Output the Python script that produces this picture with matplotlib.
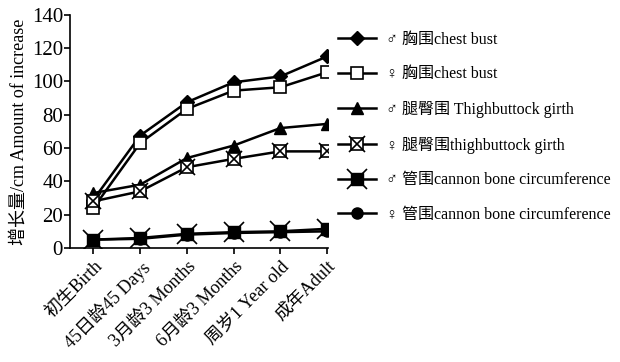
import matplotlib
matplotlib.use("Agg")
import matplotlib.pyplot as plt

plt.rcParams['font.family'] = ['Liberation Serif', 'Noto Sans CJK SC', 'DejaVu Sans']

# stages
stages = ['初生Birth', '45日龄45 Days', '3月龄3 Months', '6月龄3 Months', '周岁1 Year old', '成年Adult']

# growth values (cm)
male_chest = [29, 67.5, 87.5, 99.5, 103, 115]
female_chest = [24, 63, 83.5, 94.5, 96.5, 105.5]
male_thigh = [33, 38, 54, 61.5, 72, 74.5]
female_thigh = [28, 34, 48.5, 53.5, 58, 58]
male_cannon = [5, 6, 8.5, 9.5, 10, 11.5]
female_cannon = [5, 5.5, 8, 9, 9.5, 10]

labels = ['♂ 胸围chest bust', '♀ 胸围chest bust', '♂ 腿臀围 Thighbuttock girth',
          '♀ 腿臀围thighbuttock girth', '♂ 管围cannon bone circumference',
          '♀ 管围cannon bone circumference']

x = list(range(len(stages)))

fig = plt.figure(figsize=(6.2, 3.62), dpi=100)
ax = fig.add_axes([0.113, 0.315, 0.416, 0.644])

lw = 1.8
h1, = ax.plot(x, male_chest, color='k', lw=lw, marker='D', ms=7, mfc='k', mec='k')
h2, = ax.plot(x, female_chest, color='k', lw=lw, marker='s', ms=9, mfc='white', mec='k', mew=1.2)
h3, = ax.plot(x, male_thigh, color='k', lw=lw, marker='^', ms=9, mfc='k', mec='k')
h4a, = ax.plot(x, female_thigh, color='k', lw=lw, marker='s', ms=9, mfc='white', mec='k', mew=1.2)
h4b, = ax.plot(x, female_thigh, ls='none', marker='x', ms=12, mec='k', mew=1.2)
h5a, = ax.plot(x, male_cannon, color='k', lw=lw, marker='s', ms=9, mfc='k', mec='k')
h5b, = ax.plot(x, male_cannon, ls='none', marker='x', ms=14, mec='k', mew=1.2)
h6, = ax.plot(x, female_cannon, color='k', lw=lw, marker='o', ms=8, mfc='k', mec='k')

ax.set_xlim(-0.5, 5.02)
ax.set_ylim(0, 140)
ax.set_yticks(range(0, 141, 20))
ax.set_xticks(x)
ax.set_xticklabels(stages, rotation=45, ha='right', rotation_mode='anchor', fontsize=13)
ax.tick_params(axis='y', labelsize=15, direction='out', length=4, width=1.2, pad=1)
ax.tick_params(axis='x', direction='out', length=4, width=1.2, pad=3)
ax.spines['top'].set_visible(False)
ax.spines['right'].set_visible(False)
ax.spines['left'].set_linewidth(1.2)
ax.spines['bottom'].set_linewidth(1.2)
ax.set_ylabel('增长量/cm Amount of increase', fontsize=13, labelpad=3)

fig.legend([h1, h2, h3, (h4a, h4b), (h5a, h5b), h6], labels,
           loc='upper left', bbox_to_anchor=(0.545, 0.913), frameon=False,
           fontsize=11.5, labelspacing=1.17, handlelength=2.4, handletextpad=0.6,
           borderaxespad=0, borderpad=0)

fig.savefig('out.png', dpi=100)
